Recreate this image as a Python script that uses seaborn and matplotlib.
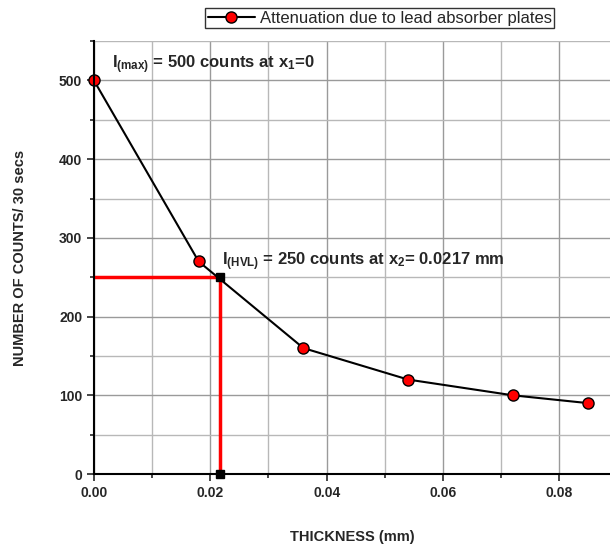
import matplotlib
matplotlib.use("Agg")
import matplotlib.pyplot as plt
from matplotlib.ticker import MultipleLocator
import pandas as pd
import seaborn as sns

thickness = [0.0, 0.018, 0.036, 0.054, 0.072, 0.085]
counts = [500, 270, 160, 120, 100, 90]
x_hvl = 0.0217
i_hvl = 250
series_name = "Attenuation due to lead absorber plates"

df = pd.DataFrame({"Thickness": thickness, "Counts": counts})

sns.set_style("ticks")
plt.rcParams["font.family"] = ["Liberation Sans", "DejaVu Sans"]
plt.rcParams["mathtext.fontset"] = "custom"
plt.rcParams["mathtext.rm"] = "Liberation Sans:bold"
plt.rcParams["mathtext.bf"] = "Liberation Sans:bold"
plt.rcParams["mathtext.it"] = "Liberation Sans:bold"

fig = plt.figure(figsize=(6.1, 5.48), dpi=100)
ax = fig.add_axes([0.154, 0.135, 0.846, 0.79])

# red guide lines to the half value point
ax.plot([0, x_hvl], [i_hvl, i_hvl], color="red", lw=2.5, zorder=3, clip_on=False)
ax.plot([x_hvl, x_hvl], [0, i_hvl], color="red", lw=2.5, zorder=3, clip_on=False)
ax.plot([x_hvl, x_hvl], [i_hvl, 0], ls="none", marker="s", color="black",
        markersize=6, zorder=4, clip_on=False)

sns.lineplot(data=df, x="Thickness", y="Counts", ax=ax, color="black", lw=1.5,
             marker="o", markersize=8, markerfacecolor="red",
             markeredgecolor="black", markeredgewidth=1, label=series_name,
             zorder=5, clip_on=False)

ax.set_xlim(0, 0.0887)
ax.set_ylim(0, 550)
ax.xaxis.set_major_locator(MultipleLocator(0.02))
ax.xaxis.set_minor_locator(MultipleLocator(0.01))
ax.yaxis.set_major_locator(MultipleLocator(100))
ax.yaxis.set_minor_locator(MultipleLocator(50))
ax.set_xticks([0, 0.02, 0.04, 0.06, 0.08])
ax.set_xticklabels(["0.00", "0.02", "0.04", "0.06", "0.08"])

ax.grid(True, which="major", color="#9a9a9a", lw=1)
ax.grid(True, which="minor", color="#b8b8b8", lw=1)
ax.set_axisbelow(True)

for s in ["top", "right"]:
    ax.spines[s].set_visible(False)
for s in ["left", "bottom"]:
    ax.spines[s].set_linewidth(1.5)
    ax.spines[s].set_color("black")
    ax.spines[s].set_zorder(6)

ax.tick_params(which="major", length=5, width=1.2, labelsize=10, direction="out")
ax.tick_params(which="minor", length=3, width=1.2, direction="out")
for lbl in ax.get_xticklabels() + ax.get_yticklabels():
    lbl.set_fontweight("bold")

ax.set_xlabel("THICKNESS (mm)", fontsize=10.5, fontweight="bold", labelpad=22)
ax.set_ylabel("NUMBER OF COUNTS/ 30 secs", fontsize=10.5, fontweight="bold", labelpad=23)

ax.text(0.0031, 506, r"I$_{(max)}$ = 500 counts at x$_1$=0", fontsize=12,
        fontweight="bold", va="bottom", ha="left", zorder=7)
ax.text(0.022, 256, r"I$_{(HVL)}$ = 250 counts at x$_2$= 0.0217 mm", fontsize=12,
        fontweight="bold", va="bottom", ha="left", zorder=7)

leg = ax.legend(loc="upper right", bbox_to_anchor=(554 / 610, 1 - 8 / 548),
                bbox_transform=fig.transFigure, frameon=True, fancybox=False,
                fontsize=12, handlelength=2.8, borderpad=0.15,
                handletextpad=0.3, borderaxespad=0)
leg.get_frame().set_edgecolor("black")
leg.get_frame().set_linewidth(1)

fig.savefig("out.png", dpi=100)
